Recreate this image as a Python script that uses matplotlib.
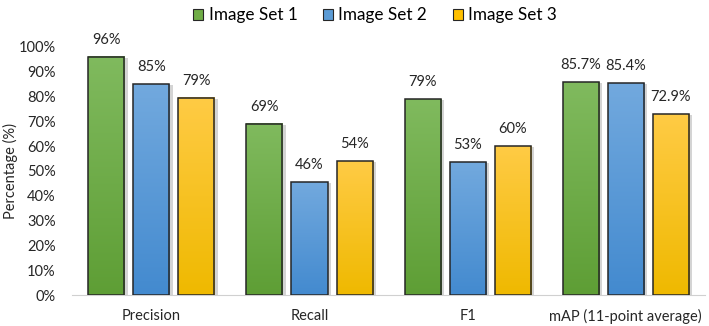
import numpy as np
import matplotlib.pyplot as plt
from matplotlib.colors import LinearSegmentedColormap
from matplotlib.patches import Rectangle

plt.rcParams['font.family'] = ['Lato', 'DejaVu Sans']

categories = ["Precision", "Recall", "F1", "mAP (11-point average)"]
series_names = ["Image Set 1", "Image Set 2", "Image Set 3"]
set1 = [0.96, 0.69, 0.79, 0.857]
set2 = [0.85, 0.455, 0.535, 0.854]
set3 = [0.795, 0.54, 0.60, 0.729]
labels1 = ["96%", "69%", "79%", "85.7%"]
labels2 = ["85%", "46%", "53%", "85.4%"]
labels3 = ["79%", "54%", "60%", "72.9%"]

# gradient colours: (top, bottom)
grads = [("#80ba5e", "#5e9e35"), ("#72a9de", "#438acf"), ("#ffcb45", "#efb900")]
solid = ["#70ad47", "#5b9bd5", "#ffc000"]

fig = plt.figure(figsize=(7.09, 3.26), dpi=100)
ax = fig.add_axes([0.102, 0.095, 0.892, 0.761])

width = 0.228
step = 0.285
x = np.arange(len(categories))
all_vals = [set1, set2, set3]
all_labels = [labels1, labels2, labels3]

for i, (vals, labs) in enumerate(zip(all_vals, all_labels)):
    cmap = LinearSegmentedColormap.from_list("g%d" % i, [grads[i][1], grads[i][0]])
    grad = np.linspace(0, 1, 256).reshape(-1, 1)
    pos = x + (i - 1) * step
    for xc, v, lab in zip(pos, vals, labs):
        x0 = xc - width / 2
        # shadow
        ax.add_patch(Rectangle((x0 + 0.022, 0), width, v - 0.004, facecolor="#d4d4d4",
                               edgecolor="none", zorder=1))
        ax.imshow(grad, extent=(x0, x0 + width, 0, v), origin="lower", aspect="auto",
                  cmap=cmap, zorder=2)
        ax.add_patch(Rectangle((x0, 0), width, v, facecolor="none",
                               edgecolor="#262626", linewidth=1.1, zorder=3))
        ax.text(xc, v + 0.04, lab, ha="center", va="bottom", fontsize=10.5, color="#262626")

ax.set_xlim(-0.5, 3.5)
ax.set_ylim(0, 1.0)
ax.set_yticks(np.arange(0, 1.01, 0.1))
ax.set_yticklabels(["%d%%" % v for v in range(0, 101, 10)])
ax.set_xticks(x)
ax.set_xticklabels(categories)
ax.tick_params(axis="both", length=0, labelsize=10.5, colors="#262626")
ax.tick_params(axis="x", pad=10)
ax.tick_params(axis="y", pad=12)
for s in ["top", "right", "left"]:
    ax.spines[s].set_visible(False)
ax.spines["bottom"].set_color("#d0d0d0")
ax.set_ylabel("Percentage (%)", fontsize=10.5, color="#262626")
ax.yaxis.set_label_coords(-0.086, 0.5)

handles = [Rectangle((0, 0), 1, 1, facecolor=solid[i], edgecolor="#262626", linewidth=0.8)
           for i in range(3)]
fig.legend(handles, series_names, loc="upper center", bbox_to_anchor=(0.529, 1.025), ncol=3,
           frameon=False, fontsize=12.3, handlelength=0.6, handleheight=0.6,
           handletextpad=0.3, columnspacing=1.5)

fig.savefig("out.png", dpi=100)
